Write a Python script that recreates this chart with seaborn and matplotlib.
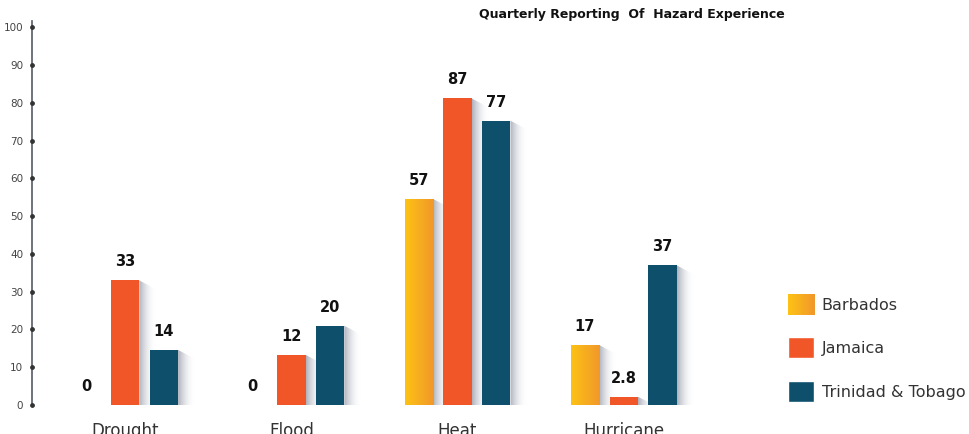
import numpy as np
import pandas as pd
import matplotlib
matplotlib.use("Agg")
import matplotlib.pyplot as plt
import seaborn as sns
from matplotlib.patches import Polygon, Rectangle
from matplotlib.colors import to_rgb
from matplotlib.legend_handler import HandlerBase

# Data
categories = ["Drought", "Flood", "Heat", "Hurricane"]
countries = ["Barbados", "Jamaica", "Trinidad & Tobago"]

# bar heights as drawn in the picture
barbados = [0, 0, 54.6, 15.9]
jamaica = [33.0, 13.3, 81.2, 2.2]
trinidad = [14.6, 21.0, 75.3, 37.0]

# value labels printed above the bars
barbados_labels = ["0", "0", "57", "17"]
jamaica_labels = ["33", "12", "87", "2.8"]
trinidad_labels = ["14", "20", "77", "37"]

title = "Quarterly Reporting  Of  Hazard Experience"

yellow_start = "#fdc214"
yellow_end = "#f1982a"
colors = {"Barbados": yellow_end, "Jamaica": "#f05628", "Trinidad & Tobago": "#0e4f6c"}


def gradient_rgba(c1, c2, n=64, alpha1=1.0, alpha2=1.0):
    a = np.array(to_rgb(c1))
    b = np.array(to_rgb(c2))
    t = np.linspace(0, 1, n)[:, None]
    rgb = a * (1 - t) + b * t
    alpha = (alpha1 * (1 - t) + alpha2 * t)
    return np.concatenate([rgb, alpha], axis=1)[None, :, :]


class GradientHandler(HandlerBase):
    # legend swatch with the same yellow-orange fade as the Barbados bars
    def create_artists(self, legend, orig_handle, xdescent, ydescent,
                       width, height, fontsize, trans):
        n = 24
        cols = gradient_rgba(yellow_start, yellow_end, n)[0]
        arts = []
        for i in range(n):
            r = Rectangle((-xdescent + i * width / n, -ydescent), width / n + 0.3, height,
                          facecolor=cols[i], edgecolor="none", transform=trans)
            arts.append(r)
        return arts


df = pd.DataFrame({
    "hazard": categories * 3,
    "country": [c for c in countries for _ in categories],
    "value": barbados + jamaica + trinidad,
})
labels = [barbados_labels, jamaica_labels, trinidad_labels]

sns.set_style("white")
plt.rcParams["font.family"] = ["DejaVu Sans"]

fig = plt.figure(figsize=(9.69, 4.34), dpi=100)
ax = fig.add_axes([0.0326, 0.0668, 0.69, 0.8848])

sns.barplot(data=df, x="hazard", y="value", hue="country", order=categories,
            hue_order=countries, palette=colors, width=0.7, gap=0.27,
            saturation=1, legend=False, ax=ax, zorder=3, linewidth=0)

ax.set_xlim(-0.563, 3.46)
ax.set_ylim(0, 101.7)

# shadows, gradients and value labels
for ci, cont in enumerate(ax.containers):
    for bar in cont.patches:
        x0 = bar.get_x()
        w = bar.get_width()
        h = bar.get_height()
        x1 = x0 + w
        if h > 0:
            sw = 0.58 * w
            drop = min(2.3, h)
            poly = Polygon([(x1, h), (x1 + sw, h - drop), (x1 + sw, 0), (x1, 0)],
                           closed=True, transform=ax.transData)
            im = ax.imshow(gradient_rgba("#adb1bc", "#ffffff", 64, 1.0, 0.0),
                           extent=[x1, x1 + sw, 0, h], aspect="auto",
                           interpolation="bilinear", zorder=2)
            im.set_clip_path(poly)
            if countries[ci] == "Barbados":
                g = ax.imshow(gradient_rgba(yellow_start, yellow_end, 64),
                              extent=[x0, x1, 0, h], aspect="auto",
                              interpolation="bilinear", zorder=4)
                g.set_clip_path(bar)
    ax.bar_label(cont, labels=labels[ci], padding=8, fontsize=10.5,
                 fontweight="bold", color="#111111")

ax.set_xlim(-0.563, 3.46)
ax.set_ylim(0, 101.7)

# axes styling
for s in ["top", "right", "bottom"]:
    ax.spines[s].set_visible(False)
ax.spines["left"].set_color("#555a63")
ax.spines["left"].set_linewidth(1.2)
ax.set_yticks(range(0, 101, 10))
ax.tick_params(axis="y", length=0, pad=6, labelsize=7.5, labelcolor="#444444")
ax.tick_params(axis="x", length=0, pad=12, labelsize=12, labelcolor="#333333")
ax.scatter([0] * 11, list(range(0, 101, 10)), s=6, color="#333333",
           transform=ax.get_yaxis_transform(), clip_on=False, zorder=6)
ax.set_xlabel("")
ax.set_ylabel("")

fig.text(0.652, 0.966, title, ha="center", va="center", fontsize=9,
         fontweight="bold", color="#111111")

handles = [Rectangle((0, 0), 1, 1, facecolor=colors[c]) for c in countries]
leg = fig.legend(handles, countries, loc="upper left",
                 bbox_to_anchor=(788 / 969, 1 - 294 / 434), frameon=False,
                 fontsize=11.5, handlelength=1.65, handleheight=1.65,
                 labelspacing=1.4, handletextpad=0.45, borderpad=0,
                 borderaxespad=0, labelcolor="#333333",
                 handler_map={handles[0]: GradientHandler()})

fig.savefig("out.png", dpi=100)
